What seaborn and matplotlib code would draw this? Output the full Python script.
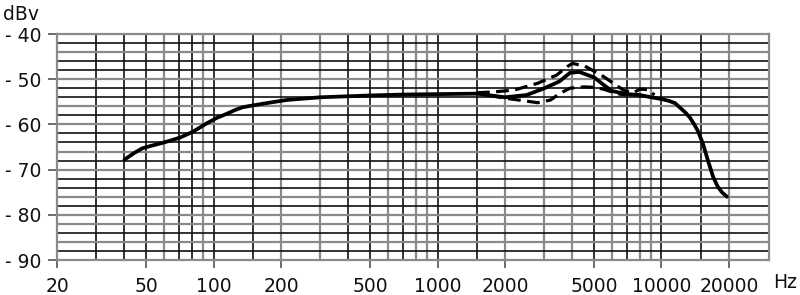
import matplotlib
matplotlib.use("Agg")
import matplotlib.pyplot as plt
import seaborn as sns
import pandas as pd

# ---- data ----
solid_freq = [40, 44, 48, 53, 58, 64, 71, 81, 93, 103, 114, 125, 135, 150, 172, 212, 300,
              500, 700, 1000, 1500, 2000, 2500, 3000, 3500, 3900, 4300, 5000, 5500, 6000,
              7000, 8000, 9000, 10000, 10800, 11500, 12100, 12800, 13400, 14000, 14550,
              15300, 16100, 17000, 17800, 18600, 19600]
solid_db = [-67.8, -66.4, -65.3, -64.7, -64.2, -63.6, -62.9, -61.6, -59.8, -58.6, -57.7,
            -56.8, -56.2, -55.8, -55.3, -54.6, -54.0, -53.6, -53.4, -53.3, -53.2, -54.0,
            -53.5, -52.0, -50.5, -48.6, -48.4, -49.6, -51.2, -52.6, -53.3, -53.5, -54.0,
            -54.4, -54.8, -55.3, -56.3, -57.4, -58.5, -60.0, -61.5, -64.2, -67.9, -71.6,
            -73.7, -75.0, -76.0]

upper_freq = [1500, 1800, 2200, 2800, 3400, 3800, 4000, 4550, 5500, 6100, 6800, 7500,
              8000, 8700, 9300]
upper_db = [-53.0, -52.8, -52.4, -50.9, -49.1, -47.2, -46.5, -47.1, -49.4, -50.9, -52.5,
            -53.0, -52.2, -52.3, -53.5]

lower_freq = [1700, 2000, 2300, 2800, 3200, 3500, 3900, 4500, 5000, 5500, 6000, 6500, 7000]
lower_db = [-53.6, -54.2, -54.6, -55.2, -54.6, -53.2, -52.0, -51.7, -51.8, -52.2, -52.8,
            -53.3, -53.5]

x_ticks = [20, 50, 100, 200, 500, 1000, 2000, 5000, 10000, 20000]
x_labels = ["20", "50", "100", "200", "500", "1000", "2000", "5000", "10000", "20000"]
y_ticks = [-40, -50, -60, -70, -80, -90]
y_labels = ["- 40", "- 50", "- 60", "- 70", "- 80", "- 90"]

# grid (axis styling)
x_grid = [30, 40, 50, 60, 70, 80, 90, 100, 150, 200, 300, 400, 500, 600, 700, 800, 900,
          1000, 1500, 2000, 3000, 4000, 5000, 6000, 7000, 8000, 9000, 10000, 15000, 20000]
x_grid_gray = [60, 90, 200, 300, 600, 800, 900, 2000, 3000, 4000, 6000, 8000, 9000, 20000]
y_grid = list(range(-88, -40, 2))
y_grid_gray = [-44, -50, -56, -60, -66, -70, -76, -80, -82, -86]

sns.set_style("white")
plt.rcParams['font.family'] = ['DejaVu Sans']

fig = plt.figure(figsize=(8, 2.95), dpi=100)
ax = fig.add_axes([57 / 800, 35 / 295, (769 - 57) / 800, 226 / 295])
ax.set_xscale("log")
ax.set_xlim(20, 30200)
ax.set_ylim(-90, -40)

for g in x_grid:
    if g in x_grid_gray:
        ax.axvline(g, color="#8a8a8a", lw=1.6, zorder=1)
    else:
        ax.axvline(g, color="#111111", lw=1.2, zorder=1)
for g in y_grid:
    if g in y_grid_gray:
        ax.axhline(g, color="#8a8a8a", lw=1.6, zorder=1)
    else:
        ax.axhline(g, color="#111111", lw=1.2, zorder=1)

df_s = pd.DataFrame({"f": solid_freq, "db": solid_db})
df_u = pd.DataFrame({"f": upper_freq, "db": upper_db})
df_l = pd.DataFrame({"f": lower_freq, "db": lower_db})

sns.lineplot(data=df_s, x="f", y="db", ax=ax, color="black", lw=2.7,
             estimator=None, zorder=3)
sns.lineplot(data=df_u, x="f", y="db", ax=ax, color="black", lw=2.3,
             estimator=None, linestyle=(0, (4, 2)), zorder=3)
sns.lineplot(data=df_l, x="f", y="db", ax=ax, color="black", lw=2.3,
             estimator=None, linestyle=(0, (4, 2)), zorder=3)

ax.set_xlabel("")
ax.set_ylabel("")
ax.set_xticks(x_ticks)
ax.set_xticklabels(x_labels)
ax.xaxis.set_minor_locator(matplotlib.ticker.NullLocator())
ax.set_yticks(y_ticks)
ax.set_yticklabels(y_labels)
ax.tick_params(axis="x", length=6, width=1.2, color="#555555", pad=6,
               labelsize=13.5, labelcolor="#111111", direction="out", bottom=True)
ax.tick_params(axis="y", length=6.5, width=1.2, color="#555555", pad=5,
               labelsize=13.5, labelcolor="#111111", direction="out", left=True)

for sp in ax.spines.values():
    sp.set_color("#8a8a8a")
    sp.set_linewidth(1.6)

fig.text(785 / 800, 1 - 283 / 295, "Hz", ha="center", va="center",
         fontsize=13.5, color="#111111")
fig.text(3 / 800, 1 - 15 / 295, "dBv", ha="left", va="center",
         fontsize=13.5, color="#111111")

fig.savefig("out.png", dpi=100)
